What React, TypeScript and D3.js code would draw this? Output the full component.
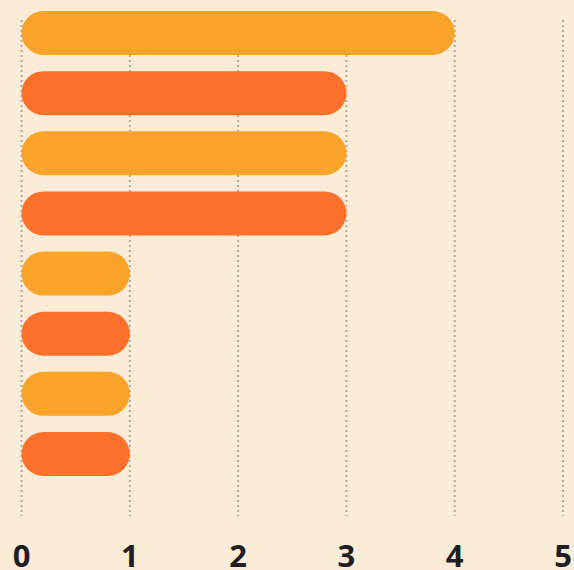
import React from "react";
import * as d3 from "d3";

const categories = ["A", "B", "C", "D", "E", "F", "G", "H"];
const values = [4, 3, 3, 3, 1, 1, 1, 1];
const tickValues = [0, 1, 2, 3, 4, 5];
const colors = ["#F9A32B", "#FB712B"];

export default function App() {
  const W = 574;
  const H = 570;
  const x = d3.scaleLinear().domain([0, 5]).range([21.5, 563]);
  const barH = 44;
  const y = d3
    .scalePoint<string>()
    .domain(categories)
    .range([33, 454]);

  return (
    <svg
      width={W}
      height={H}
      style={{ position: "absolute", left: 0, top: 0 }}
      xmlns="http://www.w3.org/2000/svg"
    >
      <rect width={W} height={H} fill="#FCEBD6" />
      {tickValues.map((t) => (
        <line
          key={"g" + t}
          x1={x(t)}
          x2={x(t)}
          y1={20}
          y2={516}
          stroke="#B3AA9E"
          strokeWidth={2}
          strokeDasharray="2 3"
        />
      ))}
      {categories.map((c, i) => {
        const x0 = x(0);
        const w = x(values[i]) - x0;
        return (
          <rect
            key={c}
            x={x0}
            y={(y(c) as number) - barH / 2}
            width={w}
            height={barH}
            rx={barH / 2}
            ry={barH / 2}
            fill={colors[i % 2]}
          />
        );
      })}
      {tickValues.map((t) => (
        <text
          key={"t" + t}
          x={x(t)}
          y={567}
          textAnchor="middle"
          fontFamily="'Open Sans', sans-serif"
          fontWeight={700}
          fontSize={31}
          fill="#1F1F1F"
        >
          {t}
        </text>
      ))}
    </svg>
  );
}
